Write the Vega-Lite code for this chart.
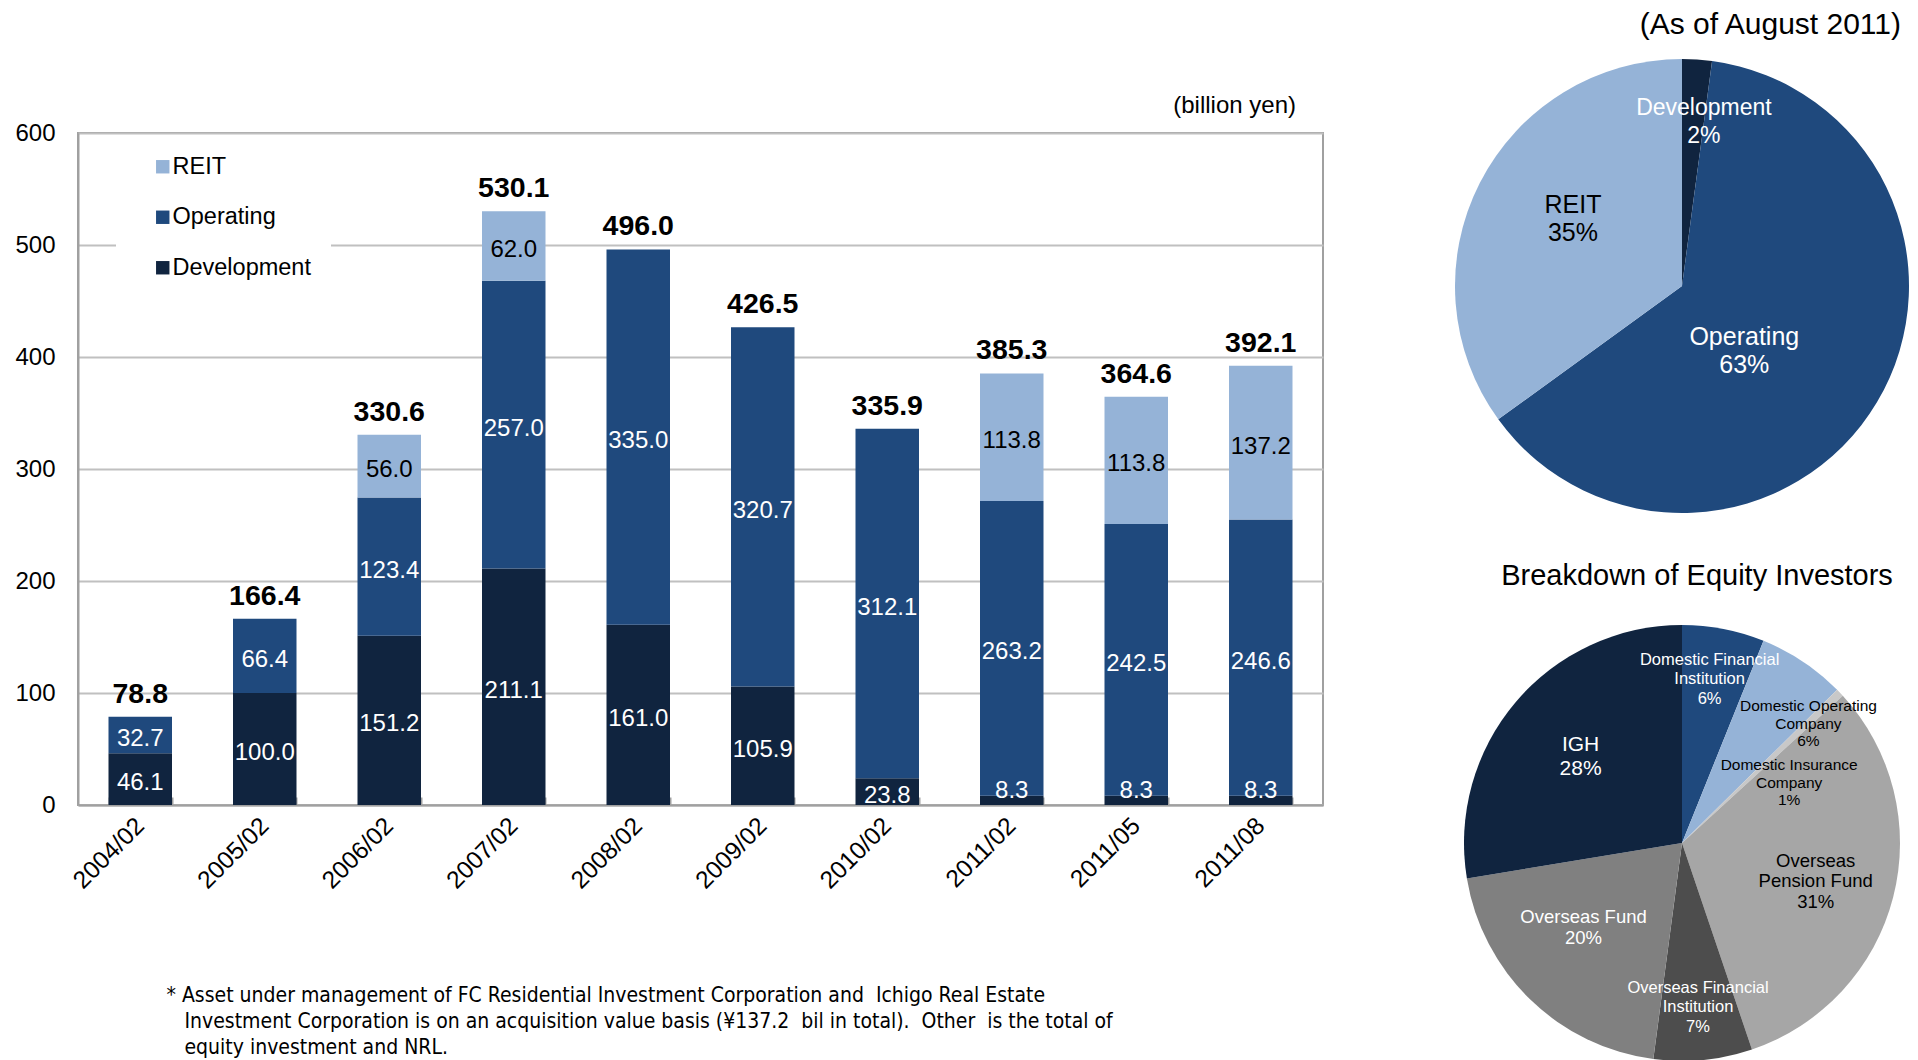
{
  "$schema": "https://vega.github.io/schema/vega-lite/v6.json",
  "background": "white",
  "padding": {"left": 13, "top": 10, "right": 0, "bottom": 0},
  "config": {
    "font": "Liberation Sans",
    "view": {"stroke": null},
    "title": {"color": "black", "fontWeight": "normal"}
  },
  "datasets": {
    "bars": [
      {"date": "2004/02", "seg": "Development", "k": 1, "value": 46.1},
      {"date": "2004/02", "seg": "Operating", "k": 2, "value": 32.7},
      {"date": "2005/02", "seg": "Development", "k": 1, "value": 100.0},
      {"date": "2005/02", "seg": "Operating", "k": 2, "value": 66.4},
      {"date": "2006/02", "seg": "Development", "k": 1, "value": 151.2},
      {"date": "2006/02", "seg": "Operating", "k": 2, "value": 123.4},
      {"date": "2006/02", "seg": "REIT", "k": 3, "value": 56.0},
      {"date": "2007/02", "seg": "Development", "k": 1, "value": 211.1},
      {"date": "2007/02", "seg": "Operating", "k": 2, "value": 257.0},
      {"date": "2007/02", "seg": "REIT", "k": 3, "value": 62.0},
      {"date": "2008/02", "seg": "Development", "k": 1, "value": 161.0},
      {"date": "2008/02", "seg": "Operating", "k": 2, "value": 335.0},
      {"date": "2009/02", "seg": "Development", "k": 1, "value": 105.9},
      {"date": "2009/02", "seg": "Operating", "k": 2, "value": 320.7},
      {"date": "2010/02", "seg": "Development", "k": 1, "value": 23.8},
      {"date": "2010/02", "seg": "Operating", "k": 2, "value": 312.1},
      {"date": "2011/02", "seg": "Development", "k": 1, "value": 8.3},
      {"date": "2011/02", "seg": "Operating", "k": 2, "value": 263.2},
      {"date": "2011/02", "seg": "REIT", "k": 3, "value": 113.8},
      {"date": "2011/05", "seg": "Development", "k": 1, "value": 8.3},
      {"date": "2011/05", "seg": "Operating", "k": 2, "value": 242.5},
      {"date": "2011/05", "seg": "REIT", "k": 3, "value": 113.8},
      {"date": "2011/08", "seg": "Development", "k": 1, "value": 8.3},
      {"date": "2011/08", "seg": "Operating", "k": 2, "value": 246.6},
      {"date": "2011/08", "seg": "REIT", "k": 3, "value": 137.2}
    ],
    "totals": [
      {"date": "2004/02", "total": 78.8},
      {"date": "2005/02", "total": 166.4},
      {"date": "2006/02", "total": 330.6},
      {"date": "2007/02", "total": 530.1},
      {"date": "2008/02", "total": 496.0},
      {"date": "2009/02", "total": 426.5},
      {"date": "2010/02", "total": 335.9},
      {"date": "2011/02", "total": 385.3},
      {"date": "2011/05", "total": 364.6},
      {"date": "2011/08", "total": 392.1}
    ],
    "pie1": [
      {"part": "Development", "k": 1, "value": 8.3, "label": "Development\n2%"},
      {"part": "Operating", "k": 2, "value": 246.6, "label": "Operating\n63%"},
      {"part": "REIT", "k": 3, "value": 137.2, "label": "REIT\n35%"}
    ],
    "pie2": [
      {"investor": "Domestic Financial Institution", "k": 1, "value": 6.1, "label": "Domestic Financial\nInstitution\n6%"},
      {"investor": "Domestic Operating Company", "k": 2, "value": 6.5, "label": "Domestic Operating\nCompany\n6%"},
      {"investor": "Domestic Insurance Company", "k": 3, "value": 0.6, "label": "Domestic Insurance\nCompany\n1%"},
      {"investor": "Overseas Pension Fund", "k": 4, "value": 31.6, "label": "Overseas\nPension Fund\n31%"},
      {"investor": "Overseas Financial Institution", "k": 5, "value": 7.3, "label": "Overseas Financial\nInstitution\n7%"},
      {"investor": "Overseas Fund", "k": 6, "value": 20.3, "label": "Overseas Fund\n20%"},
      {"investor": "IGH", "k": 7, "value": 27.6, "label": "IGH\n28%"}
    ]
  },
  "bounds": "flush",
  "spacing": 139,
  "resolve": {"scale": {"color": "independent", "theta": "independent"}},
  "hconcat": [
    {
      "width": 1245,
      "height": 672,
      "view": {"stroke": "#A0A0A0", "strokeWidth": 2},
      "title": {"text": "(billion yen)", "anchor": "end", "fontSize": 24, "dx": -27, "offset": 3},
      "data": {"name": "bars"},
      "encoding": {
        "x": {
          "field": "date", "type": "ordinal", "sort": null,
          "scale": {"domain": ["2004/02", "2005/02", "2006/02", "2007/02", "2008/02", "2009/02", "2010/02", "2011/02", "2011/05", "2011/08"], "paddingInner": 0.49, "paddingOuter": 0.245},
          "axis": {
            "title": [
              "* Asset under management of FC Residential Investment Corporation and\u00a0 Ichigo Real Estate",
              "\u200b\u00a0\u00a0\u00a0Investment Corporation is on an acquisition value basis (¥137.2\u00a0 bil in total).\u00a0 Other\u00a0 is the total of",
              "\u200b\u00a0\u00a0\u00a0equity investment and NRL."
            ],
            "labelAngle": -45, "labelAlign": "right", "labelBaseline": "middle",
            "labelFontSize": 24.5, "labelColor": "black", "labelPadding": 25,
            "tickBand": "extent", "labelOverlap": false,
            "domainColor": "#A0A0A0", "domainWidth": 2,
            "tickColor": "#A0A0A0", "tickWidth": 2, "tickSize": -8,
            "titleFont": "Liberation Sans Narrow, DejaVu Sans Condensed, sans-serif",
            "titleFontSize": 21, "titleFontWeight": "normal", "titleColor": "black",
            "titleAnchor": "start", "titleAlign": "left", "titleBaseline": "top",
            "titleX": 88, "titleY": 179, "titleLineHeight": 26
          }
        }
      },
      "layer": [
        {
          "mark": {"type": "bar"},
          "encoding": {
            "y": {
              "field": "value", "type": "quantitative", "stack": "zero",
              "scale": {"domain": [0, 600], "nice": false},
              "axis": {
                "values": [0, 100, 200, 300, 400, 500, 600], "title": null,
                "grid": true, "gridColor": "#C0C0C0", "gridWidth": 2,
                "ticks": false, "tickSize": 0, "labelFlush": false,
                "labelFontSize": 24, "labelColor": "black", "labelPadding": 23,
                "domainColor": "#A0A0A0", "domainWidth": 2
              }
            },
            "color": {
              "field": "seg", "type": "nominal",
              "scale": {"domain": ["REIT", "Operating", "Development"], "range": ["#95B3D7", "#1F497D", "#10243F"]},
              "legend": {
                "orient": "none", "legendX": 38, "legendY": 2, "title": null,
                "symbolType": "square", "symbolSize": 180, "symbolStrokeWidth": 0, "symbolOffset": 15,
                "labelFontSize": 23.5, "labelColor": "black", "labelOffset": -2, "labelLimit": 300,
                "rowPadding": 25.5, "padding": 20, "fillColor": "white"
              }
            },
            "order": {"field": "k", "type": "quantitative", "sort": "ascending"}
          }
        },
        {
          "transform": [
            {"stack": "value", "groupby": ["date"], "sort": [{"field": "k", "order": "ascending"}], "as": ["v0", "v1"]},
            {"fold": ["v0", "v1"], "as": ["edge", "pos"]},
            {"aggregate": [{"op": "mean", "field": "pos", "as": "mid"}], "groupby": ["date", "seg", "value"]},
            {"filter": "datum.value >= 10"}
          ],
          "mark": {"type": "text", "fontSize": 24, "baseline": "middle", "dy": 4},
          "encoding": {
            "y": {"field": "mid", "type": "quantitative", "title": null},
            "text": {"field": "value", "type": "quantitative", "format": ".1f"},
            "color": {"condition": {"test": "datum.seg === 'REIT'", "value": "black"}, "value": "white"}
          }
        },
        {
          "transform": [
            {"stack": "value", "groupby": ["date"], "sort": [{"field": "k", "order": "ascending"}], "as": ["v0", "v1"]},
            {"fold": ["v0", "v1"], "as": ["edge", "pos"]},
            {"aggregate": [{"op": "mean", "field": "pos", "as": "mid"}], "groupby": ["date", "seg", "value"]},
            {"filter": "datum.value < 10"}
          ],
          "mark": {"type": "text", "fontSize": 24, "baseline": "middle", "dy": -9, "color": "white"},
          "encoding": {
            "y": {"field": "mid", "type": "quantitative", "title": null},
            "text": {"field": "value", "type": "quantitative", "format": ".1f"}
          }
        },
        {
          "data": {"name": "totals"},
          "mark": {"type": "text", "fontSize": 28.5, "fontWeight": "bold", "baseline": "alphabetic", "dy": -14, "color": "black"},
          "encoding": {
            "y": {"field": "total", "type": "quantitative", "title": null},
            "text": {"field": "total", "type": "quantitative", "format": ".1f"}
          }
        }
      ]
    },
    {
      "spacing": 204,
      "bounds": "flush",
      "resolve": {"scale": {"color": "independent", "theta": "independent"}},
      "vconcat": [
        {
          "width": 440,
          "height": 306,
          "title": {"text": "(As of August 2011)", "anchor": "end", "fontSize": 30, "dx": -8, "offset": 19},
          "data": {"name": "pie1"},
          "encoding": {
            "theta": {"field": "value", "type": "quantitative", "stack": true},
            "order": {"field": "k", "type": "quantitative", "sort": "ascending"}
          },
          "layer": [
            {
              "mark": {"type": "arc", "radius": 227},
              "encoding": {
                "color": {"field": "part", "type": "nominal", "scale": {"domain": ["Development", "Operating", "REIT"], "range": ["#10243F", "#1F497D", "#95B3D7"]}, "legend": null}
              }
            },
            {
              "mark": {"type": "text", "radius": 164, "dx": 11, "dy": -14, "fontSize": 23, "color": "white", "lineBreak": "\n", "lineHeight": 28, "baseline": "middle"},
              "encoding": {"text": {"condition": {"test": "datum.part === 'Development'", "field": "label"}, "value": ""}}
            },
            {
              "mark": {"type": "text", "radius": 90, "dx": -15, "dy": 5, "fontSize": 25, "color": "white", "lineBreak": "\n", "lineHeight": 28, "baseline": "middle"},
              "encoding": {"text": {"condition": {"test": "datum.part === 'Operating'", "field": "label"}, "value": ""}}
            },
            {
              "mark": {"type": "text", "radius": 128, "dx": 5, "dy": -23, "fontSize": 25, "color": "black", "lineBreak": "\n", "lineHeight": 28, "baseline": "middle"},
              "encoding": {"text": {"condition": {"test": "datum.part === 'REIT'", "field": "label"}, "value": ""}}
            }
          ]
        },
        {
          "width": 440,
          "height": 400,
          "title": {"text": "Breakdown of Equity Investors", "anchor": "middle", "fontSize": 29, "dx": 15, "offset": 34},
          "data": {"name": "pie2"},
          "encoding": {
            "theta": {"field": "value", "type": "quantitative", "stack": true},
            "order": {"field": "k", "type": "quantitative", "sort": "ascending"}
          },
          "layer": [
            {
              "mark": {"type": "arc", "radius": 218},
              "encoding": {
                "color": {
                  "field": "investor", "type": "nominal",
                  "scale": {
                    "domain": ["Domestic Financial Institution", "Domestic Operating Company", "Domestic Insurance Company", "Overseas Pension Fund", "Overseas Financial Institution", "Overseas Fund", "IGH"],
                    "range": ["#1F497D", "#95B3D7", "#C8C8C8", "#A6A6A6", "#4D4D4D", "#808080", "#10243F"]
                  },
                  "legend": null
                }
              }
            },
            {
              "mark": {"type": "text", "radius": 166, "dx": -4, "dy": -20.5, "fontSize": 16.5, "color": "white", "lineBreak": "\n", "lineHeight": 19.5, "baseline": "middle"},
              "encoding": {"text": {"condition": {"test": "datum.investor === 'Domestic Financial Institution'", "field": "label"}, "value": ""}}
            },
            {
              "mark": {"type": "text", "radius": 174, "dx": 30, "dy": 8, "fontSize": 15.5, "color": "black", "lineBreak": "\n", "lineHeight": 17.5, "baseline": "middle"},
              "encoding": {"text": {"condition": {"test": "datum.investor === 'Domestic Operating Company'", "field": "label"}, "value": ""}}
            },
            {
              "mark": {"type": "text", "radius": 123, "dx": 18, "dy": 7, "fontSize": 15.5, "color": "black", "lineBreak": "\n", "lineHeight": 17.5, "baseline": "middle"},
              "encoding": {"text": {"condition": {"test": "datum.investor === 'Domestic Insurance Company'", "field": "label"}, "value": ""}}
            },
            {
              "mark": {"type": "text", "radius": 138, "dy": -16.5, "fontSize": 18.5, "color": "black", "lineBreak": "\n", "lineHeight": 20.5, "baseline": "middle"},
              "encoding": {"text": {"condition": {"test": "datum.investor === 'Overseas Pension Fund'", "field": "label"}, "value": ""}}
            },
            {
              "mark": {"type": "text", "radius": 165, "dy": -19.5, "fontSize": 16.5, "color": "white", "lineBreak": "\n", "lineHeight": 19.5, "baseline": "middle"},
              "encoding": {"text": {"condition": {"test": "datum.investor === 'Overseas Financial Institution'", "field": "label"}, "value": ""}}
            },
            {
              "mark": {"type": "text", "radius": 130, "dx": -8, "dy": -19, "fontSize": 18.5, "color": "white", "lineBreak": "\n", "lineHeight": 21, "baseline": "middle"},
              "encoding": {"text": {"condition": {"test": "datum.investor === 'Overseas Fund'", "field": "label"}, "value": ""}}
            },
            {
              "mark": {"type": "text", "radius": 133, "dy": -12, "fontSize": 21, "color": "white", "lineBreak": "\n", "lineHeight": 24, "baseline": "middle"},
              "encoding": {"text": {"condition": {"test": "datum.investor === 'IGH'", "field": "label"}, "value": ""}}
            }
          ]
        }
      ]
    }
  ]
}
